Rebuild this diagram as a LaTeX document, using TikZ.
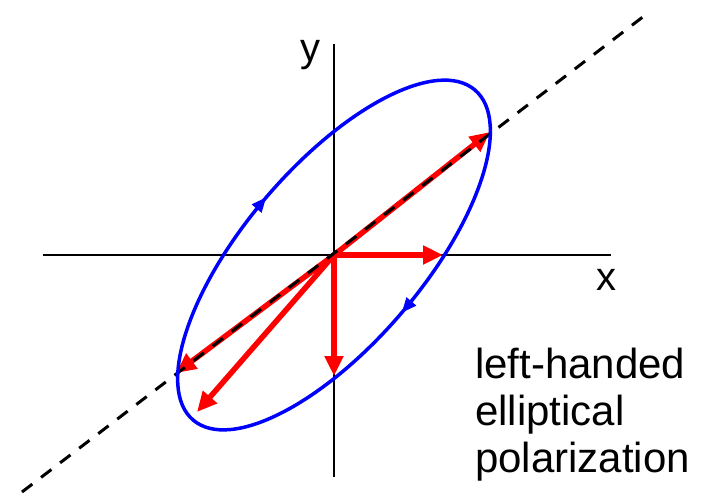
\documentclass[tikz,border=0pt]{standalone}
\usepackage{fontspec}
\setmainfont{Liberation Sans}
\usetikzlibrary{arrows.meta,decorations.markings,calc}
\begin{document}
\begin{tikzpicture}[x=1pt,y=1pt,
  axis/.style={line width=2.2pt, black},
  vec/.style={line width=5.5pt, red, -{Triangle[length=20pt,width=18pt]}},
  dashline/.style={line width=3pt, black, dash pattern=on 13pt off 11pt},
  ellip/.style={line width=3.5pt, blue},
  lbl/.style={inner sep=0pt, font=\fontsize{40}{46}\selectfont},
  txt/.style={inner sep=0pt, align=left, font=\fontsize{42}{47}\selectfont}]
\useasboundingbox (0,0) rectangle (704,496);
\coordinate (O) at (334,241);
\coordinate (XL) at (43,241);
\coordinate (XR) at (611,241);
\coordinate (YT) at (334,452);
\coordinate (YB) at (334,19);
\coordinate (D1) at (22,4);
\coordinate (D2) at (648,483);
\coordinate (R1) at (490,364);
\coordinate (R2) at (176,123);
\coordinate (R3) at (197,84);
\coordinate (R4) at (443,241);
\coordinate (R5) at (334,120);
% axes
\draw[axis] (XL) -- (XR);
\draw[axis] (YB) -- (YT);
% red vectors
\draw[vec] (O) -- (R1);
\draw[vec] (O) -- (R2);
\draw[vec] (O) -- (R3);
\draw[vec] (O) -- (R4);
\draw[vec] (O) -- (R5);
% dashed major line
\draw[dashline] (D1) -- (D2);
% ellipse
\draw[ellip, rotate around={49.5:(O)}, postaction={decorate},
  decoration={markings,
    mark=at position 0.25 with {\arrowreversed{Triangle[length=15pt,width=12pt]}},
    mark=at position 0.75 with {\arrowreversed{Triangle[length=15pt,width=12pt]}}}]
  (O) ellipse [x radius=217pt, y radius=89pt];
% labels
\node[lbl, anchor=base] (xl) at (606,206) {x};
\node[lbl, anchor=base] (yl) at (310,434) {y};
\node[txt, anchor=north west] (t) at (475,148) {left-handed\\elliptical\\polarization};
\end{tikzpicture}
\end{document}
